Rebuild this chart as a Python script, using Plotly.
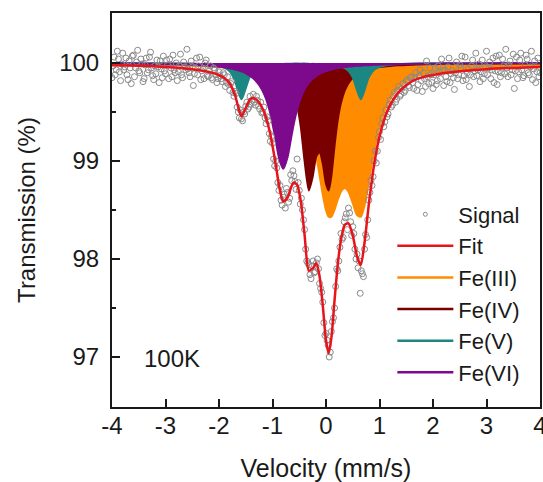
import numpy as np
import plotly.graph_objects as go

# ---------------- data ----------------
# velocity samples (mm/s) at which the fit and its sub-spectra were read
FIT_V = [-4.0, -3.5, -3.0, -2.5, -2.2, -2.0, -1.9, -1.8, -1.7, -1.65, -1.58, -1.5, -1.42, -1.35,
         -1.25, -1.15, -1.05, -0.95, -0.87, -0.8, -0.72, -0.65, -0.6, -0.54, -0.47, -0.4, -0.32,
         -0.25, -0.18, -0.12, -0.06, 0.0, 0.05, 0.1, 0.16, 0.22, 0.28, 0.35, 0.42, 0.5, 0.58,
         0.65, 0.72, 0.8, 0.9, 1.0, 1.1, 1.2, 1.35, 1.5, 1.7, 2.0, 2.5, 3.0, 3.5, 4.0]

FIT_T = [99.978, 99.971, 99.959, 99.937, 99.911, 99.877, 99.846, 99.791, 99.672, 99.569, 99.455,
         99.541, 99.628, 99.641, 99.596, 99.487, 99.296, 98.998, 98.726, 98.586, 98.626, 98.734,
         98.780, 98.758, 98.587, 98.244, 97.880, 97.904, 97.956, 97.822, 97.524, 97.171, 97.040,
         97.192, 97.580, 97.944, 98.197, 98.348, 98.364, 98.242, 98.027, 97.939, 98.166, 98.556,
         98.964, 99.251, 99.443, 99.572, 99.697, 99.773, 99.837, 99.878, 99.915, 99.937, 99.949,
         99.958]

FE3_T = [99.988, 99.985, 99.980, 99.972, 99.965, 99.959, 99.955, 99.950, 99.945, 99.942, 99.938,
         99.932, 99.925, 99.919, 99.907, 99.894, 99.877, 99.856, 99.834, 99.812, 99.779, 99.744,
         99.714, 99.669, 99.604, 99.519, 99.390, 99.238, 99.046, 98.854, 98.657, 98.499, 98.431,
         98.431, 98.504, 98.605, 98.687, 98.725, 98.687, 98.571, 98.449, 98.431, 98.545, 98.787,
         99.105, 99.350, 99.519, 99.634, 99.744, 99.812, 99.867, 99.900, 99.930, 99.948, 99.957,
         99.964]

FE4_T = [99.997, 99.995, 99.994, 99.991, 99.988, 99.985, 99.983, 99.981, 99.978, 99.977, 99.975,
         99.971, 99.968, 99.963, 99.956, 99.946, 99.933, 99.914, 99.892, 99.864, 99.818, 99.755,
         99.688, 99.569, 99.342, 98.999, 98.699, 98.836, 99.050, 99.090, 98.974, 98.769, 98.699,
         98.845, 99.157, 99.419, 99.593, 99.717, 99.794, 99.849, 99.885, 99.906, 99.922, 99.936,
         99.949, 99.958, 99.965, 99.970, 99.976, 99.980, 99.984, 99.989, 99.993, 99.995, 99.996,
         99.997]

FE5_T = [99.999, 99.998, 99.997, 99.993, 99.986, 99.971, 99.954, 99.915, 99.814, 99.723, 99.629,
         99.743, 99.866, 99.920, 99.956, 99.972, 99.981, 99.986, 99.989, 99.990, 99.992, 99.993,
         99.994, 99.994, 99.993, 99.995, 99.991, 99.991, 99.990, 99.989, 99.988, 99.986, 99.984,
         99.982, 99.978, 99.972, 99.964, 99.948, 99.920, 99.855, 99.723, 99.629, 99.723, 99.855,
         99.930, 99.960, 99.975, 99.982, 99.989, 99.992, 99.995, 99.997, 99.998, 99.998, 99.999,
         99.999]

FE6_T = [99.994, 99.992, 99.988, 99.981, 99.972, 99.962, 99.955, 99.946, 99.934, 99.926, 99.914,
         99.895, 99.869, 99.839, 99.776, 99.674, 99.505, 99.242, 99.012, 98.920, 99.037, 99.242,
         99.385, 99.526, 99.647, 99.731, 99.800, 99.839, 99.869, 99.889, 99.905, 99.918, 99.926,
         99.934, 99.941, 99.948, 99.953, 99.959, 99.963, 99.967, 99.971, 99.973, 99.976, 99.978,
         99.981, 99.983, 99.984, 99.986, 99.988, 99.989, 99.991, 99.993, 99.995, 99.996, 99.997,
         99.998]

# measured transmission, one value per velocity channel (0.02 mm/s apart) from -4 to 4 mm/s
SIGNAL_T = [
    99.85, 99.97, 100.06, 99.88, 99.93, 100.12, 100.04, 99.91, 99.82, 99.99,
    100.10, 99.93, 99.96, 100.05, 99.88, 99.83, 100.02, 99.95, 99.79, 100.07,
    100.08, 99.86, 99.95, 100.01, 100.13, 99.92, 99.90, 100.04, 99.99, 99.81,
    99.84, 99.98, 100.05, 99.90, 99.93, 100.06, 100.11, 99.95, 99.87, 99.83,
    99.97, 99.89, 100.03, 99.96, 99.80, 100.02, 99.94, 99.85, 100.07, 99.92,
    99.89, 100.03, 99.98, 99.84, 100.04, 99.95, 99.86, 100.08, 99.93, 99.90,
    100.00, 99.82, 99.91, 99.97, 100.09, 99.88, 99.85, 100.01, 99.96, 99.93,
    100.14, 99.94, 99.90, 99.86, 100.02, 99.96, 99.77, 99.89, 99.95, 100.05,
    99.88, 99.97, 100.06, 99.83, 99.92, 99.94, 99.84, 100.00, 100.03, 99.87,
    99.86, 99.92, 99.97, 99.85, 99.83, 99.95, 99.93, 99.88, 99.80, 99.84,
    99.91, 99.87, 99.84, 99.81, 99.90, 99.88, 99.76, 99.80, 99.86, 99.78,
    99.72, 99.79, 99.81, 99.70, 99.66, 99.71, 99.69, 99.55, 99.50, 99.44,
    99.52, 99.43, 99.41, 99.50, 99.48, 99.56, 99.60, 99.53, 99.55, 99.66,
    99.58, 99.62, 99.68, 99.60, 99.57, 99.66, 99.62, 99.56, 99.53, 99.60,
    99.49, 99.50, 99.55, 99.44, 99.38, 99.45, 99.41, 99.28, 99.20, 99.25,
    99.18, 99.02, 98.95, 99.00, 98.93, 98.78, 98.70, 98.75, 98.60, 98.55,
    98.63, 98.66, 98.52, 98.72, 98.68, 98.58, 98.62, 98.86, 98.80, 98.90,
    98.85, 98.79, 98.71, 99.02, 98.78, 98.70, 98.56, 98.62, 98.50, 98.40,
    98.30, 98.10, 97.98, 97.96, 97.94, 97.84, 97.80, 97.93, 97.98, 97.86,
    97.87, 97.96, 98.00, 97.90, 97.75, 97.70, 97.66, 97.56, 97.35, 97.22,
    97.24, 97.17, 97.12, 97.00, 97.05, 97.26, 97.36, 97.40, 97.50, 97.72,
    97.90, 97.88, 97.98, 98.12, 98.26, 98.20, 98.22, 98.38, 98.42, 98.46,
    98.30, 98.52, 98.47, 98.38, 98.24, 98.33, 98.26, 98.10, 98.00, 98.05,
    97.91, 97.98, 97.65, 97.88, 97.85, 97.82, 98.10, 98.25, 98.22, 98.40,
    98.60, 98.68, 98.80, 98.75, 98.84, 99.00, 99.10, 98.98, 99.10, 99.24,
    99.30, 99.22, 99.38, 99.44, 99.35, 99.40, 99.52, 99.45, 99.48, 99.58,
    99.62, 99.55, 99.57, 99.66, 99.70, 99.60, 99.63, 99.72, 99.76, 99.66,
    99.68, 99.74, 99.79, 99.70, 99.72, 99.81, 99.83, 99.77, 99.75, 99.85,
    99.86, 99.80, 99.74, 99.85, 99.90, 99.72, 99.78, 99.87, 99.93, 99.82,
    99.71, 99.90, 99.84, 99.76, 100.02, 99.86, 99.79, 99.95, 99.88, 99.80,
    99.74, 99.88, 99.95, 99.78, 99.82, 99.97, 99.90, 99.84, 100.04, 99.92,
    99.77, 99.93, 99.86, 99.81, 99.96, 100.05, 99.80, 99.89, 99.92, 99.85,
    99.73, 99.90, 100.01, 99.84, 99.88, 99.98, 99.95, 100.07, 99.82, 99.87,
    100.06, 99.83, 99.90, 99.94, 99.76, 99.88, 99.97, 100.03, 99.86, 99.92,
    100.10, 99.87, 99.93, 99.99, 99.81, 99.91, 100.03, 99.84, 99.89, 99.96,
    100.12, 99.88, 99.95, 100.01, 99.84, 99.93, 100.05, 99.80, 99.92, 100.07,
    99.78, 99.91, 100.08, 99.86, 99.90, 100.04, 99.97, 99.89, 100.14, 99.95,
    99.86, 99.98, 100.02, 99.88, 99.93, 100.09, 99.74, 99.92, 100.06, 99.84,
    99.91, 100.03, 100.10, 99.93, 99.85, 99.87, 99.98, 100.08, 100.04, 99.90,
    99.88, 99.96, 100.12, 99.83, 99.94, 100.02, 99.80, 99.91, 100.05, 99.86,
    99.90,
]
SIGNAL_V = np.linspace(-4.0, 4.0, len(SIGNAL_T))

BASELINE = 100.0
X_TICKS = [-4, -3, -2, -1, 0, 1, 2, 3, 4]
Y_TICKS = [97, 98, 99, 100]
Y_MINOR = [97.5, 98.5, 99.5]
X_RANGE = [-4, 4]
Y_RANGE = [96.49, 100.51]

# ---------------- styling ----------------
ORANGE = "#FF8C00"
DARKRED = "#7A0000"
TEAL = "#1B8783"
PURPLE = "#7D0A8C"
RED = "#E8141B"
GREY = "#8A8A8A"
INK = "#1a1a1a"
FONT = "Liberation Sans, Arial, sans-serif"

fig = go.Figure()

components = [("Fe(III)", FE3_T, ORANGE), ("Fe(IV)", FE4_T, DARKRED),
              ("Fe(V)", FE5_T, TEAL), ("Fe(VI)", FE6_T, PURPLE)]

for name, vals, col in components:
    fig.add_trace(go.Scatter(x=FIT_V, y=[BASELINE] * len(FIT_V), mode="lines",
                             line=dict(width=0, color=col), showlegend=False,
                             hoverinfo="skip"))
    fig.add_trace(go.Scatter(x=FIT_V, y=vals, mode="lines", name=name,
                             line=dict(color=col, width=2, shape="spline", smoothing=0.7),
                             fill="tonexty", fillcolor=col, showlegend=False))

fig.add_trace(go.Scatter(x=SIGNAL_V, y=SIGNAL_T, mode="markers", name="Signal",
                         marker=dict(symbol="circle-open", size=6, color=GREY,
                                     line=dict(width=1, color=GREY)),
                         showlegend=False))

fig.add_trace(go.Scatter(x=FIT_V, y=FIT_T, mode="lines", name="Fit",
                         line=dict(color=RED, width=2.5, shape="spline", smoothing=0.7),
                         showlegend=False))

# legend entries
fig.add_trace(go.Scatter(x=[None], y=[None], mode="markers", name="Signal",
                         marker=dict(symbol="circle-open", size=4, color=GREY,
                                     line=dict(width=1, color=GREY))))
fig.add_trace(go.Scatter(x=[None], y=[None], mode="lines", name="Fit",
                         line=dict(color=RED, width=2.5)))
for name, vals, col in components:
    fig.add_trace(go.Scatter(x=[None], y=[None], mode="lines", name=name,
                             line=dict(color=col, width=2.5)))

fig.add_annotation(x=-3.44, y=96.98, xref="x", yref="y", text="100K", showarrow=False,
                   xanchor="left", yanchor="middle", font=dict(size=24, color=INK, family=FONT))

axis_common = dict(ticks="inside", ticklen=8, tickwidth=2, tickcolor=INK,
                   showline=True, linewidth=2, linecolor=INK, mirror=True,
                   showgrid=False, zeroline=False, automargin=False,
                   tickfont=dict(size=24, color=INK, family=FONT))

fig.update_layout(
    width=543, height=482,
    margin=dict(l=112, r=3, t=13, b=75, autoexpand=False),
    paper_bgcolor="white", plot_bgcolor="white",
    font=dict(family=FONT, color=INK),
    showlegend=True,
    legend=dict(x=0.655, y=0.542, xanchor="left", yanchor="top", traceorder="normal",
                bgcolor="rgba(0,0,0,0)", font=dict(size=22, color=INK, family=FONT),
                itemwidth=56, tracegroupgap=0),
    xaxis=dict(range=X_RANGE, tickvals=X_TICKS, ticktext=[str(v) for v in X_TICKS],
               ticklabelstandoff=-4, ticklabeloverflow="allow",
               title=dict(text="Velocity (mm/s)", font=dict(size=25, color=INK, family=FONT),
                          standoff=25),
               **axis_common),
    yaxis=dict(range=Y_RANGE, tickvals=Y_TICKS, ticktext=[str(v) for v in Y_TICKS],
               ticklabelstandoff=6,
               minor=dict(tickvals=Y_MINOR, ticks="inside", ticklen=4, tickwidth=2,
                          tickcolor=INK, showgrid=False),
               title=dict(text="Transmission (%)", font=dict(size=24, color=INK, family=FONT),
                          standoff=17),
               **axis_common),
)

fig.write_html("out.html")
